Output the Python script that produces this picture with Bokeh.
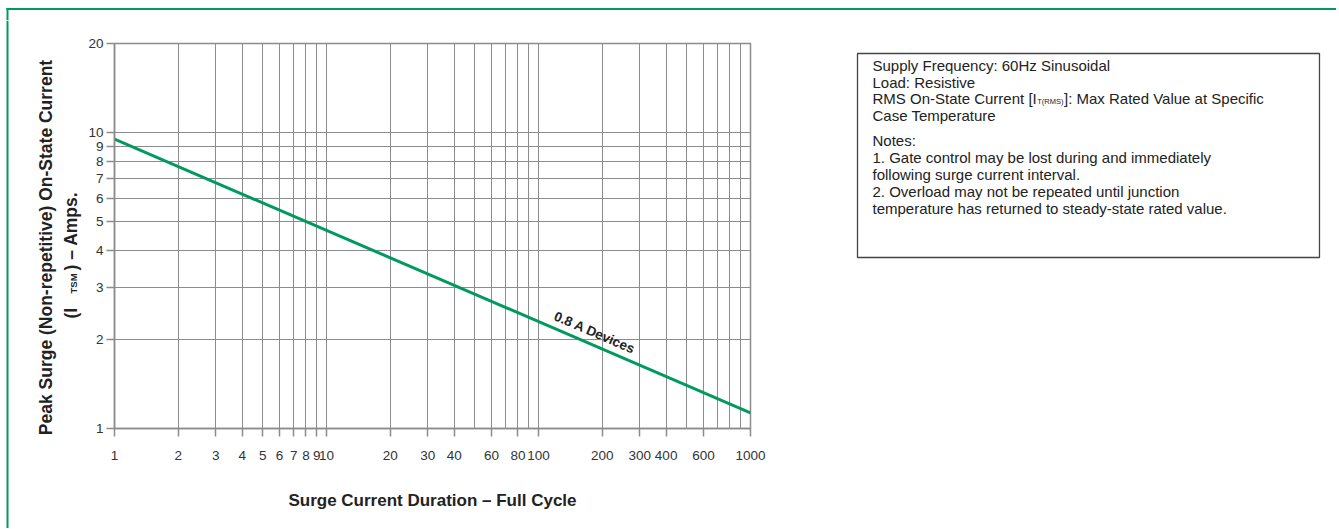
import math
from bokeh.plotting import figure
from bokeh.layouts import row, column
from bokeh.models import FixedTicker, NumeralTickFormatter, Label, Range1d
from bokeh.core.properties import value
from bokeh.embed import file_html
from bokeh.resources import INLINE

# ---------------- data ----------------
duration_cycles = [1, 1000]          # surge current duration (full cycles)
peak_surge_amps = [9.5, 1.13]        # peak surge current I_TSM (A)
series_name = "0.8 A Devices"

x_tick_values = [1, 2, 3, 4, 5, 6, 7, 8, 9, 10, 20, 30, 40, 60, 80, 100,
                 200, 300, 400, 600, 1000]
x_grid_values = [1, 2, 3, 4, 5, 6, 7, 8, 9, 10, 20, 30, 40, 50, 60, 70, 80, 90,
                 100, 200, 300, 400, 500, 600, 700, 800, 900, 1000]
y_tick_values = [1, 2, 3, 4, 5, 6, 7, 8, 9, 10, 20]
y_grid_values = [1, 2, 3, 4, 5, 6, 7, 8, 9, 10, 20]

x_title = "Surge Current Duration – Full Cycle"
y_title_line1 = "Peak Surge (Non-repetitive) On-State Current"
y_title_line2 = ["(I", "TSM", ") – Amps."]

note_lines = [
    "Supply Frequency: 60Hz Sinusoidal",
    "Load: Resistive",
    ["RMS On-State Current [I", "T(RMS)", "]: Max Rated Value at Specific"],
    "Case Temperature",
    "Notes:",
    "1. Gate control may be lost during and immediately",
    "following surge current interval.",
    "2. Overload may not be repeated until junction",
    "temperature has returned to steady-state rated value.",
]

# ---------------- style / layout ----------------
GREEN = "#009a5e"
GRID = "#8c8c8c"
TXT = "#222222"
FONT = "Liberation Sans"
BASE_FIX = 6          # compensation of the renderer's baseline placement

TOTAL_W, TOTAL_H = 1336, 528
STRIP_H = 20
ROW_H = TOTAL_H - STRIP_H
LEFT_W = 84
MAIN_W = 690
MAIN_L = 114 - LEFT_W
NOTES_W = TOTAL_W - LEFT_W - MAIN_W


def blank(width, height, xr, yr):
    f = figure(width=width, height=height, x_range=Range1d(*xr), y_range=Range1d(*yr),
               output_backend="svg", toolbar_location=None,
               x_axis_location=None, y_axis_location=None,
               min_border_left=0, min_border_right=0, min_border_top=0, min_border_bottom=0)
    f.frame_align = False
    f.grid.visible = False
    f.outline_line_color = None
    f.background_fill_color = "white"
    f.border_fill_color = "white"
    return f


# top strip with the green frame line
strip = blank(TOTAL_W, STRIP_H, (0, TOTAL_W), (STRIP_H, 0))
strip.segment(x0=[6], y0=[8.5], x1=[TOTAL_W], y1=[8.5], line_color=GREEN, line_width=2)
strip.segment(x0=[7], y0=[7.5], x1=[7], y1=[STRIP_H], line_color=GREEN, line_width=2)

# left panel: green line + y axis title
yfig = blank(LEFT_W, ROW_H, (0, LEFT_W), (TOTAL_H, STRIP_H))
yfig.segment(x0=[7], y0=[STRIP_H], x1=[7], y1=[TOTAL_H], line_color=GREEN, line_width=2)
yfig.text(x=[51 - BASE_FIX], y=[247], text=[y_title_line1], angle=math.pi / 2,
          text_align="center", text_baseline="alphabetic",
          text_font=value(FONT), text_font_style="bold", text_font_size="17.5px",
          text_color=TXT)
for txt, xs, ys, fs in [(y_title_line2[0], 76, 318, "17.5px"),
                        (y_title_line2[1], 79, 293, "9.5px"),
                        (y_title_line2[2], 76, 270, "17.5px")]:
    yfig.text(x=[xs - BASE_FIX], y=[ys], text=[txt], angle=math.pi / 2,
              text_align="left", text_baseline="alphabetic",
              text_font=value(FONT), text_font_style="bold", text_font_size=fs,
              text_color=TXT)

# main chart
p = figure(width=MAIN_W, height=ROW_H, x_axis_type="log", y_axis_type="log",
           x_range=Range1d(1, 1000), y_range=Range1d(1, 20),
           output_backend="svg", toolbar_location=None,
           min_border_left=MAIN_L, min_border_right=MAIN_W - MAIN_L - 636,
           min_border_top=43 - STRIP_H, min_border_bottom=TOTAL_H - 428)
p.frame_align = False
p.outline_line_color = GRID
p.outline_line_width = 1.5
p.background_fill_color = "white"
p.border_fill_color = "white"

for ax in (p.xaxis[0], p.yaxis[0]):
    ax.axis_line_color = GRID
    ax.axis_line_width = 1.5
    ax.major_tick_line_color = GRID
    ax.major_tick_line_width = 1.5
    ax.major_tick_out = 8
    ax.major_tick_in = 0
    ax.minor_tick_line_color = None
    ax.major_label_text_font = FONT
    ax.major_label_text_font_size = "13.5px"
    ax.major_label_text_color = "#333333"
    ax.formatter = NumeralTickFormatter(format="0")

p.xaxis.ticker = FixedTicker(ticks=x_tick_values)
p.yaxis.ticker = FixedTicker(ticks=y_tick_values)
p.xaxis.major_label_standoff = 14
p.yaxis.major_label_standoff = 3

p.xaxis.axis_label = x_title
p.xaxis.axis_label_text_font = FONT
p.xaxis.axis_label_text_font_style = "bold"
p.xaxis.axis_label_text_font_size = "17px"
p.xaxis.axis_label_text_color = TXT
p.xaxis.axis_label_standoff = 28

p.xgrid.ticker = FixedTicker(ticks=x_grid_values)
p.ygrid.ticker = FixedTicker(ticks=y_grid_values)
for g in (p.xgrid[0], p.ygrid[0]):
    g.grid_line_color = GRID
    g.grid_line_width = 1
    g.grid_line_alpha = 1

p.line(duration_cycles, peak_surge_amps, line_color=GREEN, line_width=3)

# series label placed along the line
lx0, lx1 = math.log10(duration_cycles[0]), math.log10(duration_cycles[-1])
ly0, ly1 = math.log10(peak_surge_amps[0]), math.log10(peak_surge_amps[-1])
lab_x = 175
lab_y = 10 ** (ly0 + (math.log10(lab_x) - lx0) / (lx1 - lx0) * (ly1 - ly0))
frame_w, frame_h = 636, 385
dx_px = (lx1 - lx0) / 3.0 * frame_w
dy_px = (ly0 - ly1) / math.log10(20) * frame_h
ang = -math.atan2(dy_px, dx_px)
gap = 12
p.add_layout(Label(x=lab_x, y=lab_y, text=series_name, angle=ang,
                   text_align="center", text_baseline="alphabetic",
                   x_offset=gap * math.sin(-ang), y_offset=gap * math.cos(ang),
                   text_font=FONT, text_font_style="bold", text_font_size="13.5px",
                   text_color=TXT))

# notes panel
x_start = LEFT_W + MAIN_W
nfig = blank(NOTES_W, ROW_H, (x_start, TOTAL_W), (TOTAL_H, STRIP_H))
nfig.quad(left=[857], right=[1319], top=[53], bottom=[257],
          fill_color=None, line_color="#444444", line_width=1.3)
note_x = 872
base_y = [70.8, 87.6, 104.4, 121.2, 146.4, 163.2, 180.0, 196.8, 213.6]
for line, by in zip(note_lines, base_y):
    by = by - BASE_FIX
    if isinstance(line, list):
        parts = [(line[0], note_x, by, "15px"),
                 (line[1], note_x + 164.7, by + 3, "7.5px"),
                 (line[2], note_x + 191.5, by, "15px")]
    else:
        parts = [(line, note_x, by, "15px")]
    for txt, xs, ys, fs in parts:
        nfig.text(x=[xs], y=[ys], text=[txt], text_align="left",
                  text_baseline="alphabetic", text_font=value(FONT),
                  text_font_size=fs, text_color=TXT)

layout = column(strip, row(yfig, p, nfig, spacing=0), spacing=0)
open("out.html", "w").write(file_html(layout, INLINE))
